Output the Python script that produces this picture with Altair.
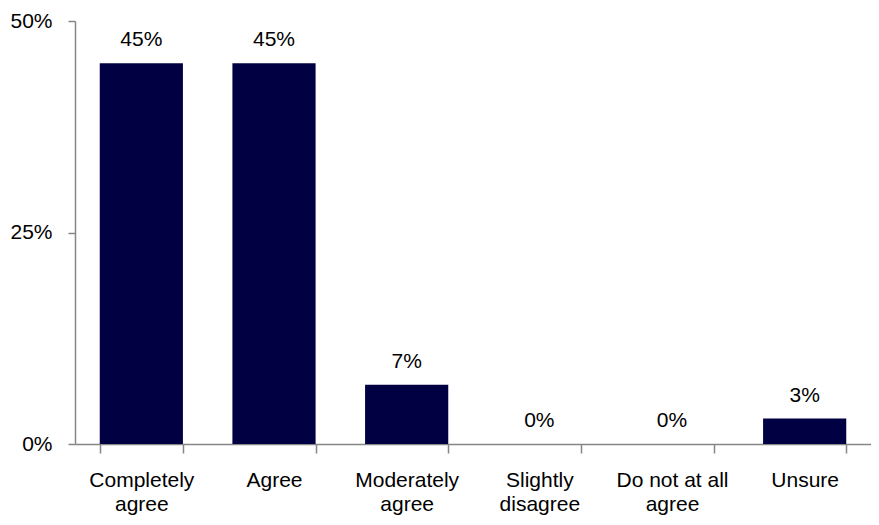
import altair as alt
import pandas as pd

categories = ["Completely agree", "Agree", "Moderately agree",
              "Slightly disagree", "Do not at all agree", "Unsure"]
label_lines = [["Completely", "agree"], ["Agree"], ["Moderately", "agree"],
               ["Slightly", "disagree"], ["Do not at all", "agree"], ["Unsure"]]
values = [0.45, 0.45, 0.07, 0.0, 0.0, 0.03]
y_ticks = [0, 0.25, 0.5]

df = pd.DataFrame({"category": categories, "value": values})

# build a label expression that splits each category into lines
expr = "''"
for cat, lines in reversed(list(zip(categories, label_lines))):
    arr = "[" + ",".join("'" + l + "'" for l in lines) + "]"
    expr = f"datum.value == '{cat}' ? {arr} : ({expr})"

FONT = "Liberation Sans"
GRAY = "#868686"

x = alt.X("category:N", sort=categories, title=None,
          scale=alt.Scale(paddingInner=0.373, paddingOuter=0.1865),
          axis=alt.Axis(labelAngle=0, labelExpr=expr, labelFont=FONT,
                        labelFontSize=21, labelColor="#000000",
                        labelLineHeight=24, labelPadding=16,
                        tickBand="extent", tickSize=9, tickColor=GRAY,
                        tickWidth=1.5, domainColor=GRAY, domainWidth=1.5))
y = alt.Y("value:Q", title=None,
          scale=alt.Scale(domain=[0, 0.5]),
          axis=alt.Axis(values=y_ticks, format=".0%", grid=False,
                        labelFont=FONT, labelFontSize=21, labelColor="#000000",
                        labelPadding=16, tickSize=7, tickColor=GRAY,
                        tickWidth=1.5, domainColor=GRAY, domainWidth=1.5))

bars = alt.Chart(df).mark_bar(color="#000042").encode(x=x, y=y)
labels = alt.Chart(df).mark_text(baseline="alphabetic", dy=-17, font=FONT,
                                 fontSize=21, color="#000000").encode(
    x=alt.X("category:N", sort=categories),
    y="value:Q",
    text=alt.Text("value:Q", format=".0%"))

chart = (bars + labels).properties(
    width=796, height=423,
    autosize=alt.AutoSizeParams(type="none"),
    padding={"left": 67, "top": 13, "right": 0, "bottom": 75},
).configure_view(stroke=None)

chart.save("out.html", embed_options={"renderer": "svg", "actions": False})
